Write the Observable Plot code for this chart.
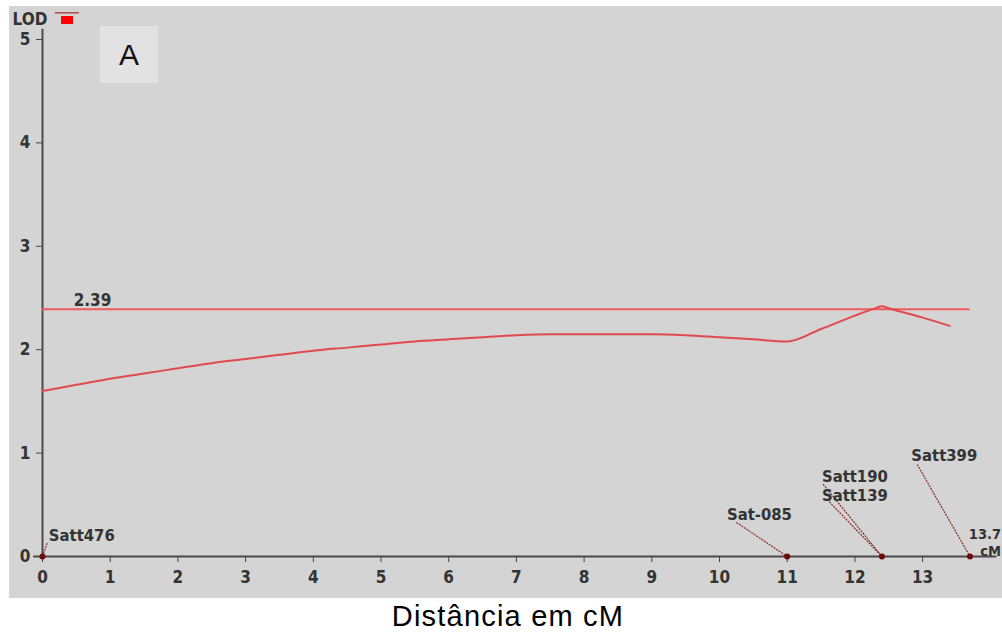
<!DOCTYPE html>
<html>
<head>
<meta charset="utf-8">
<script src="https://cdn.jsdelivr.net/npm/d3@7"></script>
<script src="https://cdn.jsdelivr.net/npm/@observablehq/plot@0.6"></script>
<style>
  html, body { margin: 0; padding: 0; background: #ffffff; width: 1002px; height: 634px; overflow: hidden; }
  #chart { position: absolute; left: 9px; top: 6px; }
  #boxA { position: absolute; left: 100px; top: 26px; width: 58px; height: 57px; background: #e2e2e2;
          font-family: "Liberation Sans", Arial, sans-serif; font-size: 30px; color: #111;
          display: flex; align-items: center; justify-content: center; }
  #xtitle { position: absolute; left: 7px; top: 598px; width: 1002px; height: 36px; line-height: 36px;
            text-align: center; font-family: "Liberation Sans", Arial, sans-serif; font-size: 29px;
            letter-spacing: 1.2px; color: #000; }
</style>
</head>
<body>
<div id="chart"></div>
<div id="boxA">A</div>
<div id="xtitle">Distância em cM</div>
<script>
// ---- data ----
const xTicks = [0,1,2,3,4,5,6,7,8,9,10,11,12,13];
const yTicks = [0,1,2,3,4,5];
const curveCM  = [0, 0.5, 1, 1.5, 2, 2.5, 3, 3.5, 4, 4.5, 5, 5.5, 6, 6.5, 7, 7.5, 8, 8.5, 9, 9.5, 10, 10.5, 11.0, 11.5, 12.0, 12.3, 12.4, 12.5, 13.0, 13.4];
const curveLOD = [1.60,1.66,1.72,1.77,1.82,1.87,1.91,1.95,1.99,2.02,2.05,2.08,2.10,2.12,2.14,2.15,2.15,2.15,2.15,2.14,2.12,2.10,2.08,2.20,2.33,2.40,2.42,2.40,2.31,2.23];
const threshold = 2.39;
const thresholdLabelX = 0.46;
const chromLength = 13.7;
const markerNames = ["Satt476", "Sat-085", "Satt190", "Satt139", "Satt399"];
const markerPos   = [0, 11.0, 12.4, 12.4, 13.7];
const labelX      = [0.58, 10.59, 12.0, 12.0, 13.32];
const labelY      = [0.20, 0.40, 0.775, 0.59, 0.97];
const leaderX     = [0.07, 10.25, 11.53, 11.62, 12.92];
const leaderY     = [0.13, 0.33, 0.70, 0.53, 0.89];
const xAxisExtent = [-0.13, 14.1];
const yAxisTop = 5.1;

const curve = curveCM.map((c, i) => ({cM: c, lod: curveLOD[i]}));
const markers = markerNames.map((n, i) => ({name: n, pos: markerPos[i], lx: labelX[i], ly: labelY[i], ax: leaderX[i], ay: leaderY[i]}));
const uniqueMarkerPos = Array.from(new Set(markerPos));

const font = "'DejaVu Sans Condensed', 'DejaVu Sans', sans-serif";

const svg = Plot.plot({
  width: 993,
  height: 592,
  marginLeft: 33,
  marginRight: 12.2,
  marginTop: 12.3,
  marginBottom: 42,
  x: {domain: [0, 14]},
  y: {domain: [0, 5.2]},
  style: {background: "#d4d4d4", fontFamily: font, fontSize: "17px", color: "#333", overflow: "visible"},
  marks: [
    Plot.axisX({ticks: xTicks, tickSize: 6, tickPadding: 8, tickFormat: d => String(d), label: null, stroke: "#444", fontWeight: "bold", fill: "#333"}),
    Plot.axisY({ticks: yTicks, tickSize: 6, tickPadding: 6, tickFormat: d => String(d), label: null, stroke: "#444", fontWeight: "bold", fill: "#333"}),
    Plot.ruleY([0], {x1: xAxisExtent[0], x2: xAxisExtent[1], stroke: "#4a4a4a", strokeWidth: 2}),
    Plot.ruleX([0], {y1: 0, y2: yAxisTop, stroke: "#4a4a4a", strokeWidth: 2}),
    Plot.ruleY([threshold], {x1: 0, x2: chromLength, stroke: "#ef5a5a", strokeWidth: 2}),
    Plot.text([threshold], {x: thresholdLabelX, y: d => d, text: d => d.toFixed(2), textAnchor: "start", dy: -9, fontWeight: "bold", fill: "#333"}),
    Plot.line(curve, {x: "cM", y: "lod", curve: "monotone-x", stroke: "#e04a4e", strokeWidth: 2}),
    Plot.link(markers, {x1: "ax", y1: "ay", x2: "pos", y2: 0, stroke: "#8a2a2a", strokeWidth: 1.2, strokeDasharray: "2,1"}),
    Plot.dot(uniqueMarkerPos, {x: d => d, y: 0, r: 3, fill: "#6a0a0a", stroke: "none"}),
    Plot.text(markers, {x: "lx", y: "ly", text: "name", textAnchor: "middle", fontSize: 16.5, fontWeight: "bold", fill: "#333"}),
    Plot.text([chromLength], {x: d => d, y: 0, text: d => String(d), textAnchor: "end", lineAnchor: "bottom", dx: 31, dy: -18, fontSize: 14.5, fontWeight: "bold", fill: "#333"}),
    Plot.text([chromLength], {x: d => d, y: 0, text: () => "cM", textAnchor: "end", lineAnchor: "bottom", dx: 31, dy: -1, fontSize: 14.5, fontWeight: "bold", fill: "#333"}),
    Plot.text(["LOD"], {frameAnchor: "top-left", text: d => d, textAnchor: "start", lineAnchor: "middle", dx: -30, dy: 1, fontSize: 17, fontWeight: "bold", fill: "#333"})
  ]
});

// legend symbol next to "LOD"
const s = d3.select(svg);
s.append("line").attr("x1", 46).attr("x2", 70).attr("y1", 6.8).attr("y2", 6.8).attr("stroke", "#b04848").attr("stroke-width", 1.5);
s.append("rect").attr("x", 52).attr("y", 10).attr("width", 12).attr("height", 8).attr("fill", "#ff0000");

document.getElementById("chart").appendChild(svg);
</script>
</body>
</html>
